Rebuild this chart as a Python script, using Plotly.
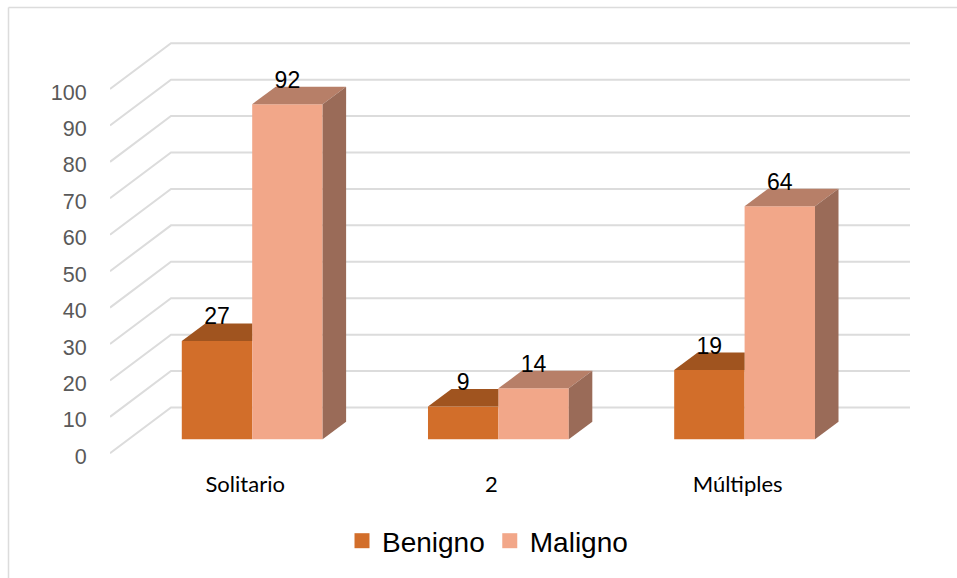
import plotly.graph_objects as go

# Data
categories = ["Solitario", "2", "Múltiples"]
benigno = [27, 9, 19]
maligno = [92, 14, 64]
y_ticks = [0, 10, 20, 30, 40, 50, 60, 70, 80, 90, 100]

# Colours (front, top, side)
benigno_colors = ("#D26E2A", "#A0541F", "#7E4219")
maligno_colors = ("#F2A789", "#B77F68", "#9A6B58")
grid_color = "#DCDCDC"

# Pixel geometry of the fake 3D box
W, H = 957, 578
L, R, T, B = 110, 47, 30, 0
PX_X = 246.2       # pixels per category
PX_Y = 3.643       # pixels per value unit
ZERO_X = 252.2     # pixel of first category centre
ZERO_Y = 453.3     # pixel of value 0 on the front plane
AXIS_Y = 464       # pixel of the category axis

x_range = [(L - ZERO_X) / PX_X, (W - R - ZERO_X) / PX_X]
y_range = [(ZERO_Y - (H - B)) / PX_Y, (ZERO_Y - T) / PX_Y]

bargap = 0.428
bar_w = (1 - bargap) / 2
base = 14.0 / PX_Y             # bars sit forward of the back wall
bar_dx = 23.5 / PX_X           # bar depth
bar_dy = 17.5 / PX_Y
wall_dx = 61.0 / PX_X          # wall depth
wall_dy = 45.8 / PX_Y
label_up = 22.3 / PX_Y
label_shift = -7.0 / PX_X

fig = go.Figure()

fig.add_trace(go.Bar(name="Benigno", x=list(range(3)), y=benigno, base=base, showlegend=False,
                     marker=dict(color=benigno_colors[0], line=dict(width=0))))
fig.add_trace(go.Bar(name="Maligno", x=list(range(3)), y=maligno, base=base, showlegend=False,
                     marker=dict(color=maligno_colors[0], line=dict(width=0))))

# Empty traces only for the bigger square legend swatches
for name, colors in (("Benigno", benigno_colors), ("Maligno", maligno_colors)):
    fig.add_trace(go.Scatter(x=[None], y=[None], name=name, mode="markers",
                             marker=dict(symbol="square", size=15, color=colors[0])))


def face(xs, ys, color):
    fig.add_trace(go.Scatter(x=xs, y=ys, mode="lines", fill="toself", fillcolor=color,
                             line=dict(width=0, color=color), showlegend=False, hoverinfo="skip"))


for i in range(3):
    # Benigno top, cut off where the taller Maligno front starts
    top = benigno[i] + base
    face([i - bar_w, i - bar_w + bar_dx, i, i, i - bar_w],
         [top, top + bar_dy, top + bar_dy, top, top], benigno_colors[1])
    # Maligno top and side
    top = maligno[i] + base
    face([i, i + bar_dx, i + bar_w + bar_dx, i + bar_w, i],
         [top, top + bar_dy, top + bar_dy, top, top], maligno_colors[1])
    face([i + bar_w, i + bar_w + bar_dx, i + bar_w + bar_dx, i + bar_w, i + bar_w],
         [base, base + bar_dy, top + bar_dy, top, base], maligno_colors[2])

# Value labels
for values, offset in ((benigno, -bar_w / 2), (maligno, bar_w / 2)):
    fig.add_trace(go.Scatter(x=[i + offset for i in range(3)],
                             y=[v + base + label_up for v in values],
                             text=[str(v) for v in values], mode="text", textposition="middle center",
                             textfont=dict(family="Liberation Sans", size=23, color="#000000"),
                             showlegend=False, hoverinfo="skip"))

# Side wall and back wall gridlines, below the bars
shapes = []
for t in y_ticks:
    shapes.append(dict(type="path", layer="below", xref="x", yref="y",
                       path=f"M {x_range[0]} {t} L {x_range[0] + wall_dx} {t + wall_dy} L {x_range[1]} {t + wall_dy}",
                       line=dict(color=grid_color, width=2)))

# Chart frame, only left and top are visible in the crop
plot_w, plot_h = W - L - R, H - T - B
frame_x = (8.5 - L) / plot_w
frame_y = (H - B - 7.5) / plot_h
shapes.append(dict(type="line", xref="paper", yref="paper", x0=frame_x, x1=frame_x,
                   y0=frame_y, y1=0, line=dict(color=grid_color, width=1.5)))
shapes.append(dict(type="line", xref="paper", yref="paper", x0=frame_x, x1=(W - L) / plot_w,
                   y0=frame_y, y1=frame_y, line=dict(color=grid_color, width=1.5)))

fig.update_layout(
    width=W, height=H,
    margin=dict(l=L, r=R, t=T, b=B),
    paper_bgcolor="white", plot_bgcolor="rgba(0,0,0,0)",
    barmode="group", bargap=bargap, bargroupgap=0,
    shapes=shapes,
    legend=dict(orientation="h", x=(342 - L) / plot_w, xanchor="left",
                y=(H - B - 516) / plot_h, yanchor="top",
                font=dict(family="Liberation Sans", size=28, color="#000000"),
                itemclick=False, itemdoubleclick=False),
)
fig.update_xaxes(range=x_range, tickmode="array",
                 tickvals=[i + label_shift for i in range(3)], ticktext=categories,
                 anchor="free", position=(H - B - AXIS_Y) / plot_h,
                 showgrid=False, zeroline=False, showline=False,
                 ticks="outside", ticklen=1, tickcolor="rgba(0,0,0,0)",
                 tickfont=dict(family="Lato", size=22, color="#000000"))
fig.update_yaxes(range=y_range, tickmode="array", tickvals=y_ticks,
                 showgrid=False, zeroline=False, showline=False,
                 ticks="outside", ticklen=18, tickcolor="rgba(0,0,0,0)", ticklabelshift=3,
                 tickfont=dict(family="Liberation Sans", size=21.5, color="#595959"))

# Drop the browser's default page margin so pixels line up with the window
fig.write_html("out.html", post_script="document.body.style.margin='0';",
               config=dict(displayModeBar=False))
